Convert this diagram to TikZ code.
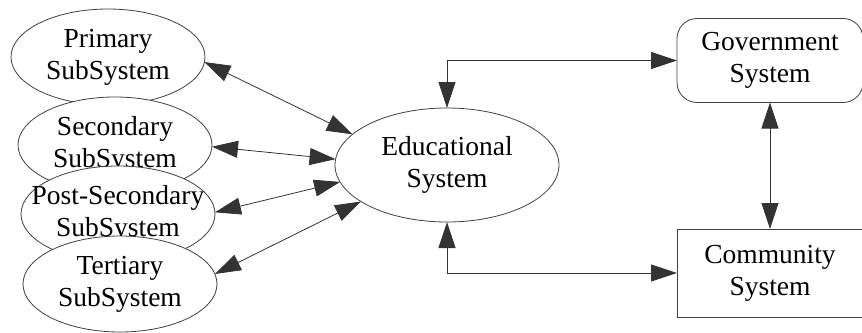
\documentclass[tikz,border=0pt]{standalone}
\usepackage{fontspec}
\setmainfont{Liberation Serif}
\usetikzlibrary{shapes.geometric,arrows.meta}
\begin{document}
\begin{tikzpicture}[x=1pt,y=-1pt,
  txt/.style={align=center,font=\fontsize{27.5}{32}\selectfont,text=black},
  subsys/.style={ellipse,draw=black!75,line width=0.8pt,fill=white,minimum width=194pt,minimum height=96pt,inner sep=0pt,outer sep=0pt},
  edusys/.style={txt,ellipse,draw=black!75,line width=0.8pt,fill=white,minimum width=224pt,minimum height=114pt,inner sep=0pt,outer sep=0pt},
  govbox/.style={txt,draw=black!75,line width=0.8pt,rounded corners=20pt,minimum width=186pt,minimum height=84pt,inner sep=0pt,outer sep=0pt},
  combox/.style={txt,draw=black!75,line width=0.8pt,minimum width=186pt,minimum height=88pt,inner sep=0pt,outer sep=0pt},
  link/.style={draw=black!80,line width=0.8pt,{Triangle[length=26pt,width=17pt]}-{Triangle[length=26pt,width=17pt]}}]
\useasboundingbox (0,0) rectangle (862,332);
\node[subsys,label={[txt]center:Primary\\SubSystem}] (prim) at (108,57) {};
\node[subsys,label={[txt]center:Secondary\\SubSystem}] (sec) at (115,145) {};
\node[subsys,label={[txt]center:Post-Secondary\\SubSystem}] (post) at (118,214) {};
\node[subsys,label={[txt]center:Tertiary\\SubSystem}] (tert) at (120,284) {};
\node[edusys] (edu) at (447,165) {Educational\\System};
\node[govbox] (gov) at (770,60.5) {Government\\System};
\node[combox] (com) at (770,273) {Community\\System};
\draw[link] (prim.-3.5) -- (edu.162.8);
\draw[link] (sec.-1.5) -- (edu.177.4);
\draw[link] (post.1.2) -- (edu.-171.6);
\draw[link] (tert.6.5) -- (edu.-157.2);
\draw[link] (edu.north) |- (gov.west);
\draw[link] (edu.south) |- (com.west);
\draw[link] (gov.south) -- (com.north);
\end{tikzpicture}
\end{document}
